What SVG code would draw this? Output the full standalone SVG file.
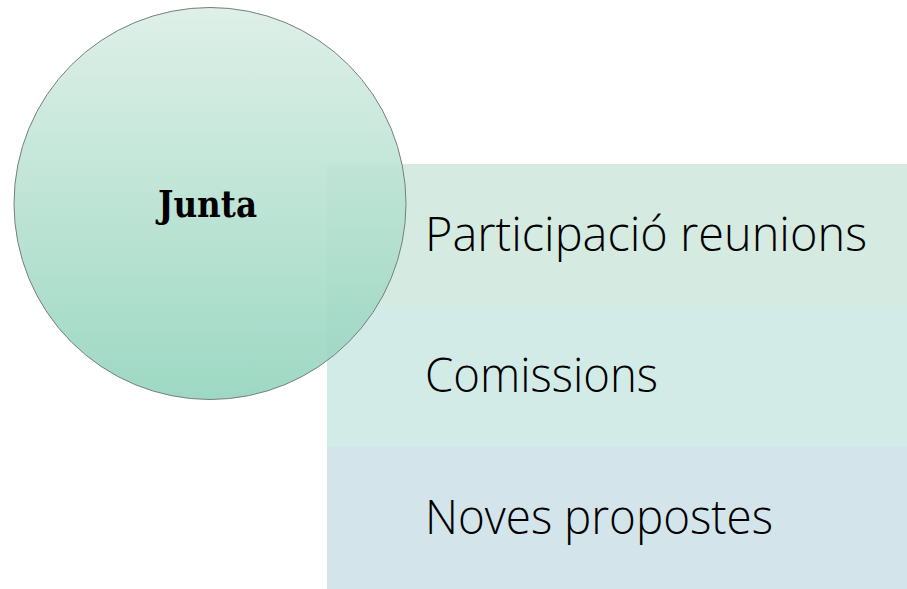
<svg xmlns="http://www.w3.org/2000/svg" width="907" height="589" viewBox="0 0 907 589">
  <defs>
    <linearGradient id="circGrad" x1="0" y1="0" x2="0" y2="1">
      <stop offset="0" stop-color="#dbeee6"/>
      <stop offset="1" stop-color="#93d4bd"/>
    </linearGradient>
    <style>
      .item { font-family: "Open Sans", "Liberation Sans", sans-serif; font-weight: 300; font-size: 48px; fill: #000000; }
      .title { font-family: "DejaVu Serif", "Liberation Serif", serif; font-weight: bold; font-size: 37px; fill: #000000; }
    </style>
  </defs>
  <rect width="907" height="589" fill="#ffffff"/>
  <g id="item1">
    <rect x="327" y="164" width="580" height="142" fill="#d5ebe1"/>
    <text class="item" x="425" y="251" textLength="442" lengthAdjust="spacingAndGlyphs">Participació reunions</text>
  </g>
  <g id="item2">
    <rect x="327" y="306" width="580" height="141" fill="#d3ebe7"/>
    <text class="item" x="425" y="392" textLength="233" lengthAdjust="spacingAndGlyphs">Comissions</text>
  </g>
  <g id="item3">
    <rect x="327" y="447" width="580" height="142" fill="#d3e5ea"/>
    <text class="item" x="425" y="534" textLength="348" lengthAdjust="spacingAndGlyphs">Noves propostes</text>
  </g>
  <g id="junta">
    <circle cx="210" cy="203.5" r="196" fill="url(#circGrad)" fill-opacity="0.9" stroke="#76807b" stroke-width="1"/>
    <text class="title" x="158" y="217" textLength="99" lengthAdjust="spacingAndGlyphs">Junta</text>
  </g>
  <g id="connectors"/>
</svg>
